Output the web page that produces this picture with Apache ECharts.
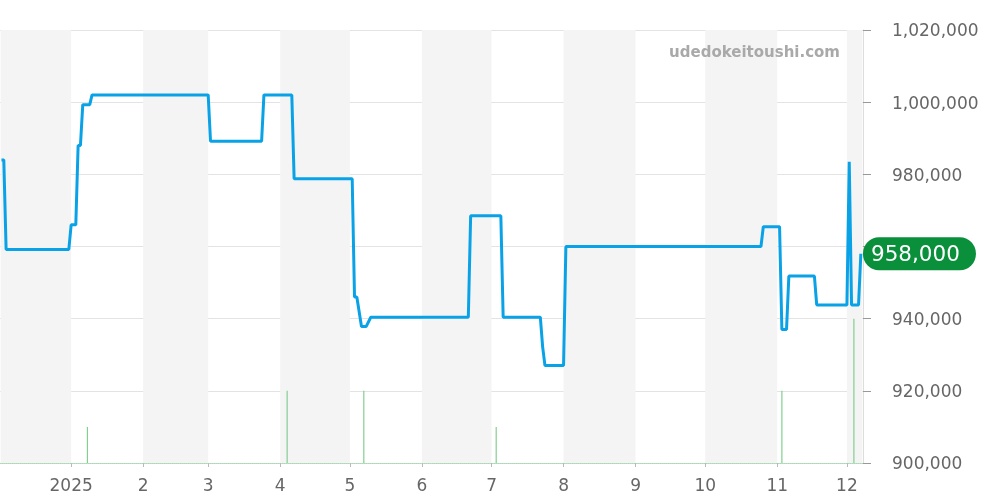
<!DOCTYPE html>
<html>
<head>
<meta charset="utf-8">
<script src="https://cdn.jsdelivr.net/npm/echarts@6/dist/echarts.min.js"></script>
<style>html,body{margin:0;padding:0;background:#fff;}#chart{width:1000px;height:500px;}</style>
</head>
<body>
<div id="chart"></div>
<script>
// Price line (date, JPY)
const priceDates = ['2024-12-02','2024-12-03','2024-12-04','2024-12-31','2025-01-01','2025-01-03','2025-01-04','2025-01-05','2025-01-06','2025-01-09','2025-01-10','2025-03-01','2025-03-02','2025-03-24','2025-03-25','2025-04-06','2025-04-07','2025-05-02','2025-05-03','2025-05-04','2025-05-06','2025-05-08','2025-05-10','2025-06-21','2025-06-22','2025-07-05','2025-07-06','2025-07-22','2025-07-23','2025-07-24','2025-08-01','2025-08-02','2025-10-25','2025-10-26','2025-11-02','2025-11-03','2025-11-05','2025-11-06','2025-11-17','2025-11-18','2025-12-01','2025-12-02','2025-12-03','2025-12-06','2025-12-07'];
const priceValues = [984000,984000,959200,959200,966000,966000,988000,988000,999300,999300,1002000,1002000,989200,989200,1002000,1002000,978800,978800,946000,946000,937800,937800,940400,940400,968500,968500,940400,940400,932200,927000,927000,960000,960000,965500,965500,937000,937000,951800,951800,943800,943800,983500,943800,943800,958000];

// Volume bars
const volumeDates = ['2025-01-08','2025-04-04','2025-05-07','2025-07-03','2025-11-03','2025-12-04'];
const volumeValues = [1,2,2,1,2,4];

// Shaded month bands
const shadeStarts = ['2024-12-01 15:00','2025-02-01','2025-04-01','2025-06-01','2025-08-01','2025-10-01','2025-12-01'];
const shadeEnds   = ['2025-01-01','2025-03-01','2025-05-01','2025-07-01','2025-09-01','2025-11-01','2025-12-07 16:00'];

// Axis range / ticks
const xMin = '2024-12-01 15:00';
const xMax = '2025-12-07 16:00';
const yMin = 900000, yMax = 1020000, yStep = 20000;
const lastPrice = 958000;
const watermark = 'udedokeitoushi.com';

const FONT = 'DejaVu Sans';
const fmt = v => Number(v).toLocaleString('en-US');

const chart = echarts.init(document.getElementById('chart'), null, {renderer: 'canvas'});
chart.setOption({
  animation: false,
  backgroundColor: '#fff',
  textStyle: {fontFamily: FONT},
  grid: {left: 0, right: 137, top: 30, bottom: 37, containLabel: false},
  graphic: [{
    type: 'text', right: 160, top: 46, z: 100,
    style: {text: watermark, font: 'bold 15px "DejaVu Sans"', fill: '#a9a9a9'}
  }],
  xAxis: {
    type: 'time',
    min: xMin, max: xMax,
    minInterval: 28 * 86400000,
    maxInterval: 31 * 86400000,
    splitLine: {show: false},
    axisLine: {show: true, lineStyle: {color: '#a6dbb0', type: 'dotted', width: 1}},
    axisTick: {show: true, length: 4, lineStyle: {color: '#bbb'}},
    axisLabel: {
      fontSize: 17, color: '#666', margin: 15, fontFamily: FONT,
      showMinLabel: false, showMaxLabel: false,
      formatter: function (val) {
        const d = new Date(val);
        return d.getMonth() === 0 ? String(d.getFullYear()) : String(d.getMonth() + 1);
      }
    }
  },
  yAxis: [{
    type: 'value', position: 'right',
    min: yMin, max: yMax, interval: yStep,
    axisLine: {show: true, lineStyle: {color: '#ddd'}},
    axisTick: {show: true, length: 8, lineStyle: {color: '#999'}},
    splitLine: {show: true, lineStyle: {color: '#e3e3e3'}},
    axisLabel: {fontSize: 17, color: '#666', margin: 29, fontFamily: FONT,
      verticalAlign: 'top', lineHeight: 4, formatter: v => fmt(v)},
    axisPointer: {
      show: true, type: 'none', status: 'show', value: lastPrice, triggerTooltip: false,
      label: {
        show: true, margin: 0, fontSize: 21.5, fontFamily: FONT, color: '#fff',
        backgroundColor: '#0a8f3b', borderRadius: 16, padding: [7, 16, 4, 8],
        formatter: p => fmt(p.value)
      }
    }
  }, {
    type: 'value', min: 0, max: 12, show: false,
    splitLine: {show: false}
  }],
  series: [{
    type: 'bar', name: 'volume', yAxisIndex: 1,
    data: volumeDates.map((d, i) => [d, volumeValues[i]]),
    barWidth: 1.2,
    itemStyle: {color: '#84ce92'},
    markArea: {
      silent: true,
      itemStyle: {color: '#f4f4f4'},
      data: shadeStarts.map((s, i) => [{xAxis: s}, {xAxis: shadeEnds[i]}])
    },
    z: 1
  }, {
    type: 'line', name: 'price', yAxisIndex: 0,
    data: priceDates.map((d, i) => [d, priceValues[i]]),
    showSymbol: false, symbol: 'none',
    lineStyle: {color: '#0aa2e6', width: 3},
    z: 5
  }]
});
</script>
</body>
</html>
